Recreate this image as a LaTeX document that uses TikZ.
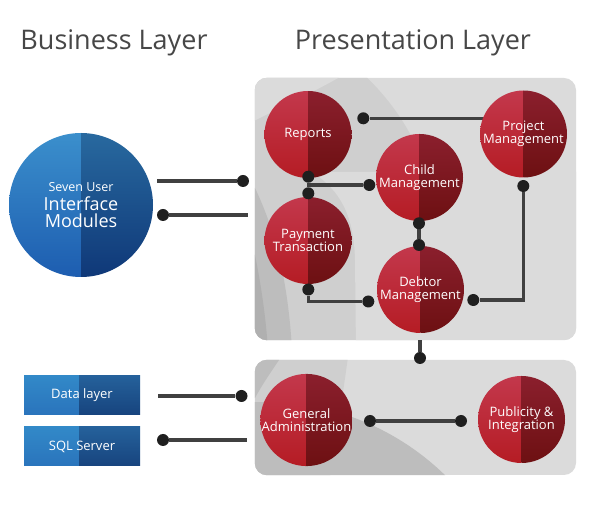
\documentclass[tikz,border=0pt]{standalone}
\usepackage{fontspec}
\setmainfont{Open Sans}
\definecolor{panellight}{HTML}{DBDBDB}
\definecolor{panelmid}{HTML}{CFCFCF}
\definecolor{paneldark}{HTML}{BDBDBD}
\definecolor{paneldarker}{HTML}{B0B0B0}
\definecolor{wirecol}{HTML}{404040}
\definecolor{dotcol}{HTML}{1F1F1F}
\definecolor{titlecol}{HTML}{474747}
\definecolor{redTL}{HTML}{C3384C}
\definecolor{redBL}{HTML}{B51C24}
\definecolor{redTR}{HTML}{8B1F2D}
\definecolor{redBR}{HTML}{6D1012}
\definecolor{blueTL}{HTML}{3B8FCC}
\definecolor{blueBL}{HTML}{1D5DB0}
\definecolor{blueTR}{HTML}{28699F}
\definecolor{blueBR}{HTML}{0F3878}
\definecolor{boxTL}{HTML}{3289C8}
\definecolor{boxBL}{HTML}{2A74BC}
\definecolor{boxTR}{HTML}{25619B}
\definecolor{boxBR}{HTML}{17447E}
\usetikzlibrary{calc}
\pgfdeclarelayer{bg}
\pgfdeclarelayer{wires}
\pgfdeclarelayer{dots}
\pgfsetlayers{bg,wires,main,dots}
\tikzset{
  redball/.style={circle, minimum size=87pt, inner sep=0pt, text=white, align=center,
    font=\fontsize{13}{12.5}\selectfont,
    path picture={
      \shade[top color=redTL, bottom color=redBL] (path picture bounding box.north west) rectangle (path picture bounding box.south);
      \shade[top color=redTR, bottom color=redBR] (path picture bounding box.north) rectangle (path picture bounding box.south east);}},
  blueball/.style={circle, minimum size=144pt, inner sep=0pt, text=white, align=center,
    font=\fontsize{18}{16.5}\selectfont,
    path picture={
      \shade[top color=blueTL, bottom color=blueBL] (path picture bounding box.north west) rectangle (path picture bounding box.south);
      \shade[top color=blueTR, bottom color=blueBR] (path picture bounding box.north) rectangle (path picture bounding box.south east);}},
  bluebox/.style={rectangle, minimum width=116pt, minimum height=39pt, inner sep=0pt, text=white,
    font=\fontsize{13}{14}\selectfont,
    path picture={
      \shade[top color=boxTL, bottom color=boxBL] (path picture bounding box.north west) rectangle ([xshift=55pt]path picture bounding box.south west);
      \shade[top color=boxTR, bottom color=boxBR] ([xshift=55pt]path picture bounding box.north west) rectangle (path picture bounding box.south east);}},
  panel/.style={rectangle, rounded corners=12pt, fill=panellight, inner sep=0pt, minimum width=321pt},
  dotc/.style={circle, fill=dotcol, minimum size=12pt, inner sep=0pt},
  wire/.style={draw=wirecol, line width=3.3pt},
  titletext/.style={text=titlecol, font=\fontsize{27}{30}\selectfont, anchor=base, inner sep=0pt},
}
\begin{document}
\begin{tikzpicture}[x=1pt,y=-1pt]
\useasboundingbox (0,0) rectangle (590,510);

% titles
\node[titletext] (biz) at (114,50) {Business Layer};
\node[titletext] (pres) at (413,50) {Presentation Layer};

% panels with decorative rings
\begin{pgfonlayer}{bg}
\fill[white] (0,0) rectangle (590,510);
\node[panel, minimum height=262pt] (toppanel) at (415.5,209) {};
\begin{scope}
  \clip[rounded corners=12pt] (toppanel.south west) rectangle (toppanel.north east);
  \fill[panelmid] (200,250) circle[radius=240pt];
  \fill[panellight] (240,60) -- (240,128) .. controls (285,105) and (330,85) .. (368,60) -- cycle;
  \fill[panellight] (312,172) .. controls (340,190) and (354,215) .. (355,260) -- (356,350) -- (600,350) -- (600,172) -- cycle;
  \fill[paneldark] (240,185) -- (255,188) .. controls (275,230) and (288,280) .. (292,350) -- (240,350) -- cycle;
  \fill[paneldarker] (240,250) -- (255,255) .. controls (262,290) and (266,320) .. (268,350) -- (240,350) -- cycle;
\end{scope}
\node[panel, minimum height=115pt] (lowpanel) at (415.5,417.5) {};
\begin{scope}
  \clip[rounded corners=12pt] (lowpanel.south west) rectangle (lowpanel.north east);
  \fill[panelmid] (240,350) -- (349,350) .. controls (342,400) and (336,440) .. (328,490) -- (240,490) -- cycle;
  \fill[paneldark] (240,350) -- (286,350) .. controls (272,370) and (262,385) .. (255,398) -- (240,400) -- cycle;
  \fill[paneldark] (265,660) circle[radius=258pt];
\end{scope}
\end{pgfonlayer}

% business layer
\node[blueball] (ui) at (81,205) {{\fontsize{12.5}{15}\selectfont Seven User}\\[3pt]Interface\\Modules};
\node[bluebox] (data) at (82,395) {Data layer};
\node[bluebox] (sql) at (82,446.5) {SQL Server};

% presentation layer modules
\node[redball] (reports) at (308,134.5) {Reports};
\node[redball] (proj) at (523.5,134) {Project\\Management};
\node[redball] (child) at (419.5,177.5) {Child\\Management};
\node[redball] (pay) at (308,240.5) {Payment\\Transaction};
\node[redball] (debtor) at (420.5,289.5) {Debtor\\Management};
\node[redball] (gen) at (306.5,420) {General\\Administration};
\node[redball] (pub) at (521.5,419.5) {Publicity \&\\Integration};

% dots
\begin{pgfonlayer}{dots}
\node[dotc] (dRP) at (363.3,118.3) {};
\node[dotc] (dRB) at (308.3,176.7) {};
\node[dotc] (dPT) at (308.3,193.3) {};
\node[dotc] (dCL) at (369.3,185) {};
\node[dotc] (dCB) at (419,223.3) {};
\node[dotc] (dDT) at (419,245) {};
\node[dotc] (dPB) at (308.3,289.5) {};
\node[dotc] (dDL) at (368.3,301.5) {};
\node[dotc] (dDR) at (473.3,300) {};
\node[dotc] (dPjB) at (523.3,186) {};
\node[dotc] (dTP) at (420,358) {};
\node[dotc] (dUA) at (243,181) {};
\node[dotc] (dUB) at (163,215) {};
\node[dotc] (dDA) at (241.5,396) {};
\node[dotc] (dSA) at (163,440) {};
\node[dotc] (dGA) at (370,421) {};
\node[dotc] (dPI) at (461,421) {};
\end{pgfonlayer}

% free ends
\coordinate (uiA) at (157,181);
\coordinate (uiB) at (248,215);
\coordinate (dlA) at (158,396);
\coordinate (sqA) at (247,440);

% connectors
\begin{pgfonlayer}{wires}
\draw[wire] (dRP) -- (dRP -| proj.center);
\draw[wire] (dRB) -- (dPT);
\draw[wire] (dRB |- dCL) -- (dCL);
\draw[wire] (dCB) -- (dDT);
\draw[wire] (dPB) |- (dDL);
\draw[wire] (dDR) -| (dPjB);
\draw[wire] (dTP |- toppanel.south) -- (dTP);
\draw[wire] (uiA) -- (dUA);
\draw[wire] (dUB) -- (uiB);
\draw[wire] (dlA) -- (dDA);
\draw[wire] (dSA) -- (sqA);
\draw[wire] (dGA) -- (dPI);
\end{pgfonlayer}
\end{tikzpicture}
\end{document}
